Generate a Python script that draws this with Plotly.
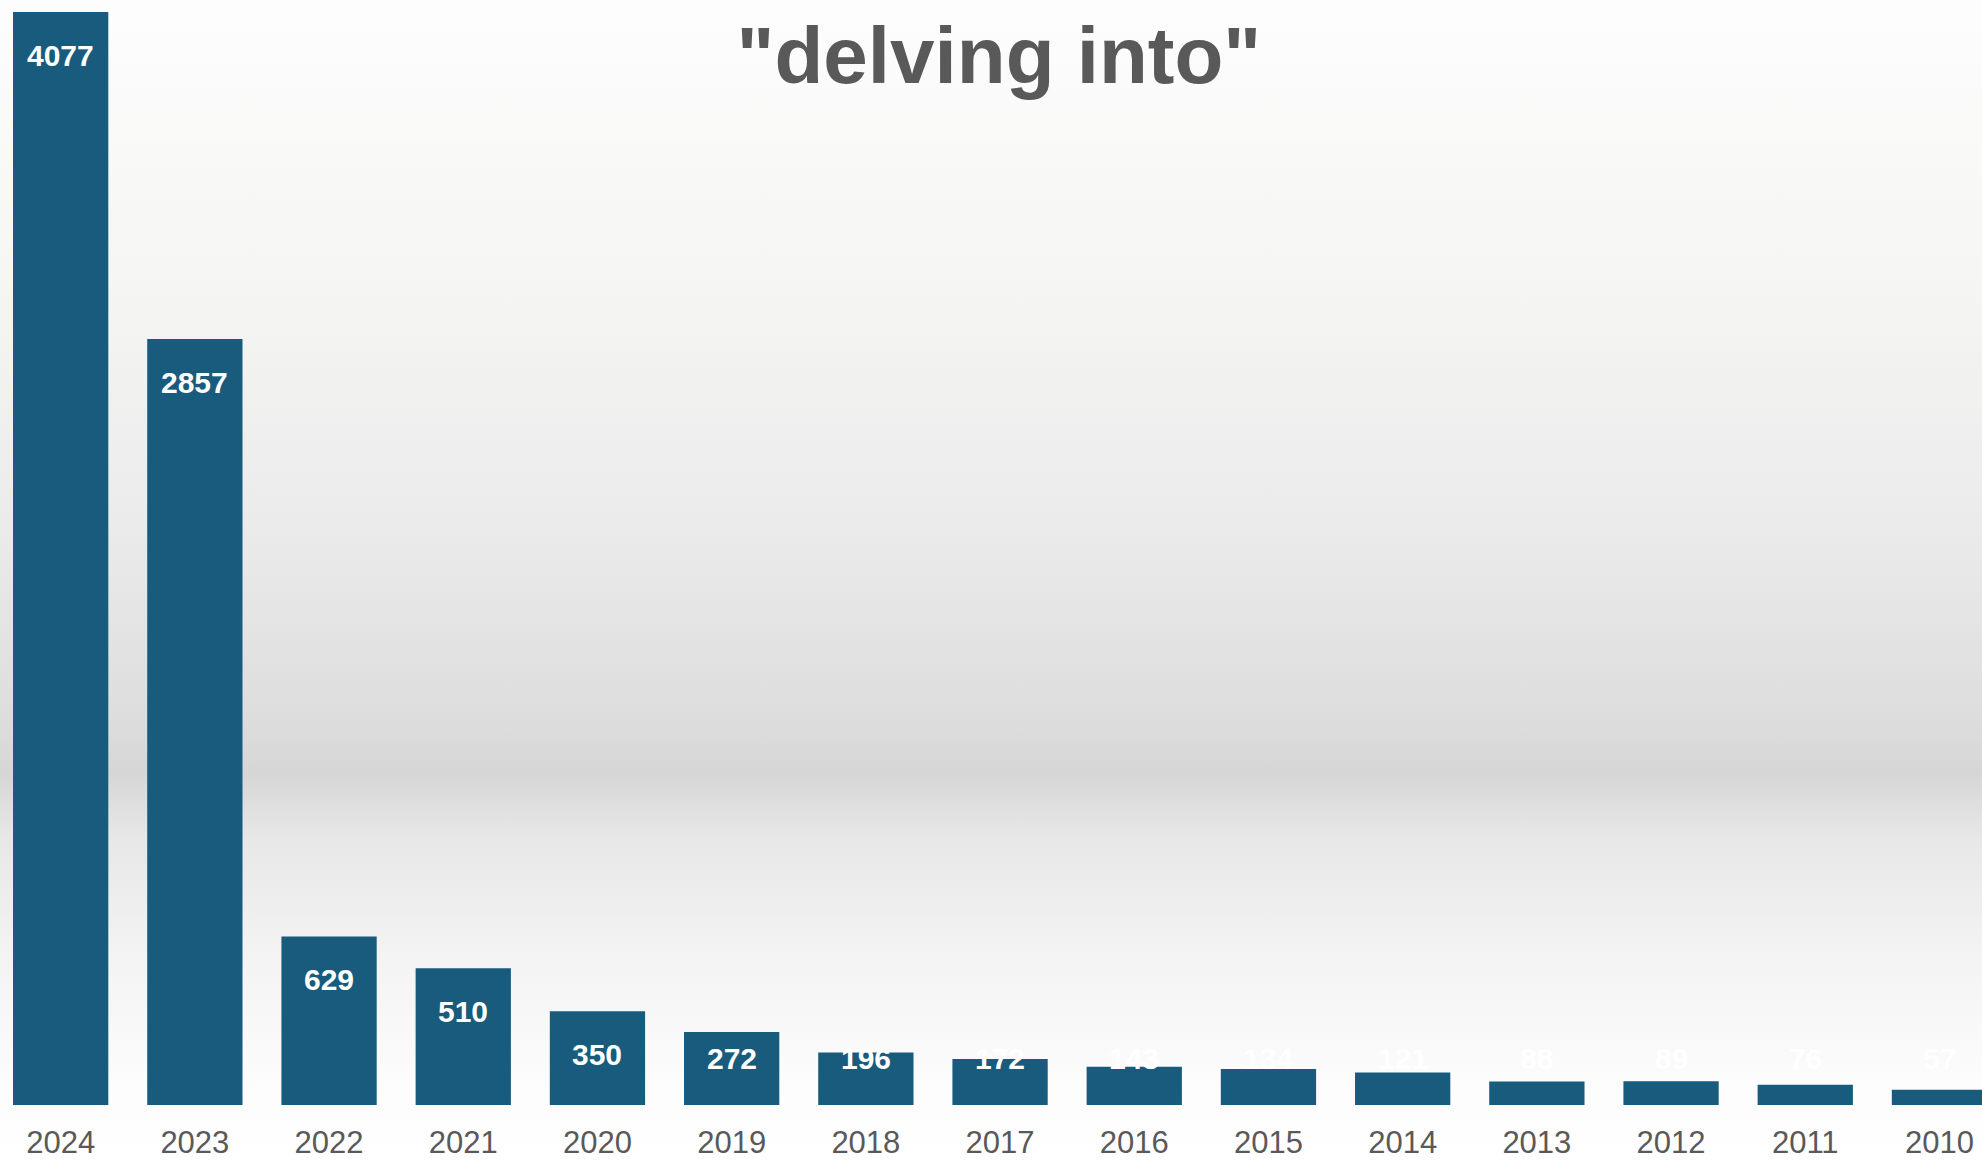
import base64
import plotly.graph_objects as go

years = ["2024", "2023", "2022", "2021", "2020", "2019", "2018", "2017",
         "2016", "2015", "2014", "2013", "2012", "2011", "2010"]
counts = [4077, 2857, 629, 510, 350, 272, 196, 172, 143, 134, 121, 88, 89, 76, 57]
title_text = '"delving into"'

BAR_COLOR = "#185b7d"
GRAY = "#595959"

# background gradient (light -> gray band -> white), drawn as an SVG image
svg = """<svg xmlns='http://www.w3.org/2000/svg' width='100' height='1162' viewBox='0 0 100 1162' preserveAspectRatio='none'>
<defs><linearGradient id='g' x1='0' y1='0' x2='0' y2='1'>
<stop offset='0' stop-color='#fdfdfd'/>
<stop offset='0.25' stop-color='#f5f5f4'/>
<stop offset='0.45' stop-color='#ebebeb'/>
<stop offset='0.62' stop-color='#dddddd'/>
<stop offset='0.665' stop-color='#d6d6d6'/>
<stop offset='0.72' stop-color='#e7e7e7'/>
<stop offset='0.82' stop-color='#f3f3f3'/>
<stop offset='0.93' stop-color='#fcfcfc'/>
<stop offset='1' stop-color='#ffffff'/>
</linearGradient></defs>
<rect x='0' y='0' width='100' height='1162' fill='url(#g)'/>
</svg>"""
bg_uri = "data:image/svg+xml;base64," + base64.b64encode(svg.encode()).decode()

fig = go.Figure()
fig.add_trace(go.Bar(
    x=years, y=counts,
    marker=dict(color=BAR_COLOR, line=dict(width=0)),
    hoverinfo="x+y",
))

# value labels near the top of each bar (Excel "inside end" style)
for i, v in enumerate(counts):
    fig.add_annotation(
        x=i, y=max(v, 335), xref="x", yref="y",
        text=str(v), showarrow=False, yanchor="middle", yshift=-43,
        font=dict(family="Liberation Sans, Arial, sans-serif", size=30,
                  color="white", weight="bold"),
    )

fig.update_layout(
    width=1982, height=1162,
    margin=dict(l=0, r=0, t=0, b=57, autoexpand=False),
    paper_bgcolor="white",
    plot_bgcolor="rgba(0,0,0,0)",
    bargap=0.29,
    showlegend=False,
    title=dict(
        text=title_text, x=0.504, xanchor="center", y=1 - 55 / 1162, yanchor="middle",
        font=dict(family="Liberation Sans, Arial, sans-serif", size=80, color=GRAY,
                  weight="bold"),
    ),
    images=[dict(
        source=bg_uri, xref="paper", yref="paper", x=-0.01, y=1.0,
        sizex=1.02, sizey=1162 / 1105, sizing="stretch", xanchor="left", yanchor="top",
        layer="below",
    )],
    xaxis=dict(
        type="category", range=[-0.452, 14.317], automargin=False,
        showgrid=False, zeroline=False, showline=False, ticks="",
        ticklabelstandoff=16,
        tickfont=dict(family="Liberation Sans, Arial, sans-serif", size=31, color=GRAY),
    ),
    yaxis=dict(
        range=[0, 4122], visible=False, showgrid=False, zeroline=False, automargin=False,
    ),
)

fig.write_html(
    "out.html",
    config={"displayModeBar": False},
    post_script="document.body.style.margin='0';document.body.style.overflow='hidden';",
)
